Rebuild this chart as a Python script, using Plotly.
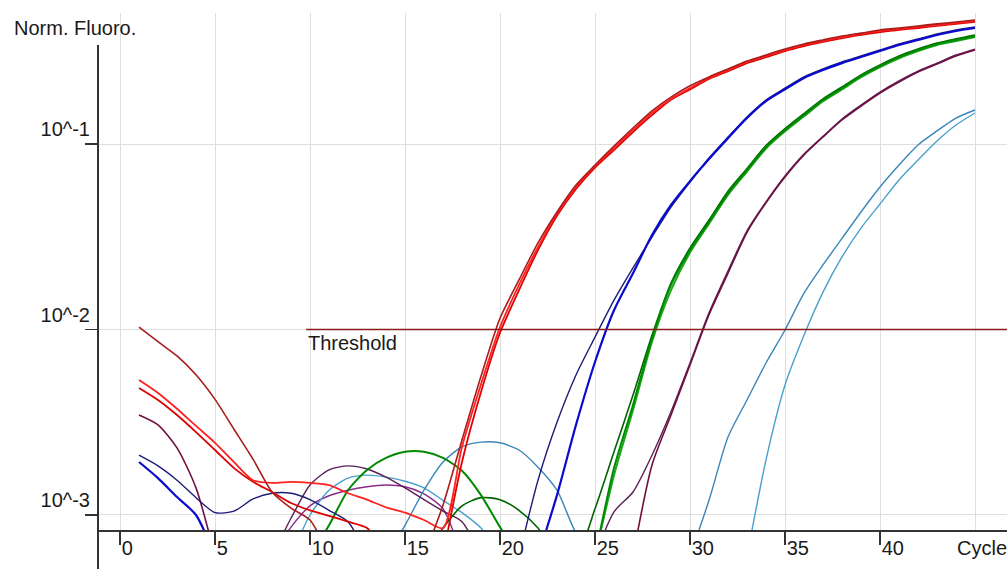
import math
import plotly.graph_objects as go

cycles = list(range(1, 46))

# Normalised fluorescence per cycle (None = not shown on log scale)
red_a = [0.0103, 0.0086, 0.0072, 0.0057, 0.0042, 0.0029, 0.0020, 0.00133, 0.00109, 0.00094,
         0.0006, None, None, None, None, 0.0006, 0.00113, 0.00254, 0.0056, 0.0115,
         0.0185, 0.0293, 0.0430, 0.0601, 0.0770, 0.0975, 0.122, 0.151, 0.179, 0.206,
         0.230, 0.254, 0.280, 0.302, 0.325, 0.346, 0.364, 0.382, 0.396, 0.412,
         0.422, 0.433, 0.444, 0.455, 0.466]
red_b = [0.00534, 0.00455, 0.00374, 0.00302, 0.00245, 0.00193, 0.00154, 0.00149, 0.00151, 0.00149,
         0.00145, 0.00131, 0.00121, 0.00110, 0.00103, 0.00094, 0.00085, 0.00233, 0.00507, 0.0103,
         0.0174, 0.0278, 0.0420, 0.0586, 0.0761, 0.0953, 0.119, 0.147, 0.175, 0.200,
         0.227, 0.250, 0.277, 0.298, 0.321, 0.342, 0.359, 0.377, 0.392, 0.407,
         0.417, 0.428, 0.438, 0.449, 0.460]
red_c = [0.00484, 0.00417, 0.00346, 0.00280, 0.00224, 0.00179, 0.00151, 0.00133, 0.00116, 0.00106,
         0.00099, 0.00092, 0.00085, 0.0006, None, None, 0.0006, 0.00193, 0.0046, 0.0096,
         0.0163, 0.0268, 0.0410, 0.0572, 0.0745, 0.0928, 0.116, 0.143, 0.173, 0.197,
         0.224, 0.247, 0.273, 0.294, 0.317, 0.337, 0.355, 0.372, 0.387, 0.4015,
         0.412, 0.422, 0.433, 0.444, 0.455]
navy = [0.0021, 0.00184, 0.00154, 0.00124, 0.00103, 0.00105, 0.00122, 0.00131, 0.00131, 0.00121,
        0.00106, 0.00092, 0.0006, None, None, None, None, None, None, None,
        0.0006, 0.00154, 0.00316, 0.00569, 0.0091, 0.0144, 0.0215, 0.0315, 0.0457, 0.0623,
        0.0841, 0.109, 0.140, 0.1726, 0.200, 0.230, 0.254, 0.277, 0.298, 0.321,
        0.346, 0.368, 0.392, 0.412, 0.427]
blue = [0.00193, 0.00158, 0.00125, 0.00100, 0.0006, None, None, None, None, None,
        None, None, None, None, None, None, None, None, None, None,
        None, 0.0006, 0.00128, 0.00306, 0.00668, 0.0127, 0.0201, 0.0323, 0.0469, 0.0631,
        0.083, 0.1075, 0.138, 0.1703, 0.197, 0.227, 0.2505, 0.273, 0.2944, 0.317,
        0.342, 0.3636, 0.387, 0.4065, 0.422]
green_a = [None, None, None, None, None, None, None, None, None, 0.0006,
           0.00088, 0.00136, 0.00175, 0.00203, 0.00219, 0.00219, 0.00203, 0.00173, 0.00128, 0.00086,
           0.0006, None, None, None, 0.0006, 0.00179, 0.00392, 0.0090, 0.0174, 0.0268,
           0.0380, 0.0544, 0.0724, 0.0963, 0.119, 0.1433, 0.1726, 0.200, 0.2326, 0.263,
           0.294, 0.321, 0.346, 0.364, 0.382]
green_b = [None, None, None, None, None, None, None, None, None, None,
           None, None, None, None, None, 0.0006, 0.00085, 0.00112, 0.00124, 0.00121,
           0.00106, 0.00085, 0.0006, 0.0006, 0.00108, 0.00219, 0.00443, 0.0093, 0.0178, 0.0275,
           0.0389, 0.0557, 0.0738, 0.0980, 0.121, 0.146, 0.175, 0.203, 0.236, 0.267,
           0.298, 0.325, 0.350, 0.369, 0.387]
green_c = [None, None, None, None, None, None, None, None, None, None,
           None, None, None, None, None, None, None, None, None, None,
           None, None, None, None, 0.0006, 0.00164, 0.00368, 0.0086, 0.0163, 0.0260,
           0.0372, 0.0531, 0.0710, 0.0946, 0.117, 0.141, 0.170, 0.197, 0.229, 0.260,
           0.290, 0.317, 0.342, 0.359, 0.377]
maroon_a = [0.00346, 0.00306, 0.0023, 0.0014, 0.0006, None, None, None, None, None,
            None, None, None, None, None, None, None, None, None, None,
            None, None, None, None, None, None, 0.0006, 0.00186, 0.00346, 0.00644,
            0.0120, 0.0201, 0.0334, 0.0482, 0.0664, 0.0873, 0.1091, 0.1347, 0.160, 0.1883,
            0.216, 0.2444, 0.270, 0.298, 0.321]
maroon_b = [None, None, None, None, None, None, None, 0.0006, 0.00096, 0.00145,
            0.00175, 0.00184, 0.00177, 0.0016, 0.0014, 0.00121, 0.00105, 0.00092, 0.0006, None,
            None, None, None, None, 0.0006, 0.00104, 0.00133, 0.0021, 0.0036, 0.0066,
            0.0123, 0.0207, 0.034, 0.0487, 0.0672, 0.0883, 0.110, 0.1363, 0.162, 0.1905,
            0.219, 0.247, 0.273, 0.302, 0.325]
teal_a = [None, None, None, None, None, None, None, None, None, None,
          None, None, None, 0.0006, 0.00088, 0.00136, 0.00193, 0.00233, 0.00247, 0.00245,
          0.00224, 0.00181, 0.00136, 0.0008, 0.0006, None, None, None, None, 0.0006,
          0.0012, 0.00263, 0.00417, 0.0066, 0.00994, 0.0157, 0.0223, 0.0310, 0.043, 0.0586,
          0.077, 0.0988, 0.1176, 0.138, 0.1525]
teal_b = [None, None, None, None, None, None, None, None, 0.0006, 0.00100,
          0.00136, 0.00158, 0.00164, 0.0016, 0.00152, 0.0014, 0.0012, 0.00103, 0.00085, 0.0006,
          None, None, None, None, None, None, None, None, None, None,
          None, None, 0.0006, 0.00198, 0.00502, 0.0093, 0.0159, 0.0246, 0.0352, 0.0475,
          0.064, 0.082, 0.1038, 0.1266, 0.1469]
purple = [None, None, None, None, None, None, None, 0.0006, 0.00086, 0.00112,
          0.00127, 0.00136, 0.00142, 0.00145, 0.00142, 0.0013, 0.00108, 0.0006, None, None,
          None, None, None, None, None, None, None, None, None, None,
          None, None, None, None, None, None, None, None, None, None,
          None, None, None, None, None]

threshold = 0.01
threshold_start = 9.8

x_ticks = [0, 5, 10, 15, 20, 25, 30, 35, 40]
x_tick_labels = ["0", "5", "10", "15", "20", "25", "30", "35", "40"]
y_ticks = [0.001, 0.01, 0.1]
y_tick_labels = ["10^-3", "10^-2", "10^-1"]

series = [
    (purple, "#8a2a8a", 1.4),
    (teal_b, "#4aa0cc", 1.4),
    (teal_a, "#3a86b8", 1.4),
    (maroon_b, "#5a1f55", 1.4),
    (maroon_a, "#701040", 1.6),
    (green_c, "#18a818", 2.0),
    (green_b, "#006400", 1.6),
    (green_a, "#008a00", 2.0),
    (navy, "#1c1c78", 1.4),
    (blue, "#0a0ad0", 2.2),
    (red_c, "#e00000", 1.8),
    (red_b, "#ff2020", 1.8),
    (red_a, "#a81c1c", 1.6),
]

fig = go.Figure()
for vals, col, w in series:
    fig.add_trace(go.Scatter(x=cycles, y=vals, mode="lines",
                             line=dict(color=col, width=w, shape="spline", smoothing=0.7),
                             connectgaps=False, hoverinfo="skip"))

fig.add_trace(go.Scatter(x=[threshold_start, 47], y=[threshold, threshold], mode="lines",
                         line=dict(color="#8b1a1a", width=1.5), hoverinfo="skip"))

W, H = 1007, 569
PLOT_TOP, PLOT_BOTTOM, PLOT_LEFT = 13, 530, 98
ph = PLOT_BOTTOM - PLOT_TOP
pw = W - PLOT_LEFT

fig.update_layout(
    width=W, height=H,
    margin=dict(l=PLOT_LEFT, r=0, t=PLOT_TOP, b=H - PLOT_BOTTOM, pad=0),
    plot_bgcolor="white", paper_bgcolor="white",
    showlegend=False,
    font=dict(family="Liberation Sans, Arial, sans-serif", size=20, color="#1a1a1a"),
)
fig.update_xaxes(
    range=[-1.158, 46.684], tickvals=x_ticks, ticktext=x_tick_labels,
    showgrid=True, gridcolor="#dedede", gridwidth=1, zeroline=False,
    showline=True, linecolor="#333333", linewidth=2,
    ticks="outside", ticklen=13, tickwidth=1.5, tickcolor="#333333",
    ticklabelposition="outside right", ticklabelstandoff=-1,
    minor=dict(tickvals=[45], showgrid=True, gridcolor="#dedede", ticks=""),
)
fig.update_yaxes(
    type="log", range=[-3.0809, -0.2938], tickvals=y_ticks, ticktext=y_tick_labels,
    showgrid=True, gridcolor="#dedede", gridwidth=1, zeroline=False,
    showline=False,
    ticks="outside", ticklen=12, tickwidth=1.5, tickcolor="#333333",
    ticklabelshift=-15, ticklabelstandoff=-9,
)

# vertical axis line extending below the x axis
fig.add_shape(type="line", xref="paper", yref="paper",
              x0=0, x1=0, y0=(PLOT_BOTTOM - H) / ph, y1=(PLOT_BOTTOM - 45) / ph,
              line=dict(color="#333333", width=2))

fig.add_annotation(text="Threshold", x=threshold_start, y=math.log10(threshold),
                   xref="x", yref="y", xanchor="left", yanchor="top",
                   showarrow=False, font=dict(size=20))
fig.add_annotation(text="Norm. Fluoro.", xref="paper", yref="paper",
                   x=(12 - PLOT_LEFT) / pw, y=(PLOT_BOTTOM - 27.5) / ph,
                   xanchor="left", yanchor="middle", showarrow=False, font=dict(size=20))
fig.add_annotation(text="Cycle", xref="paper", yref="paper",
                   x=(955 - PLOT_LEFT) / pw, y=(PLOT_BOTTOM - 548) / ph,
                   xanchor="left", yanchor="middle", showarrow=False, font=dict(size=20))

fig.write_html(
    "out.html",
    config={"displayModeBar": False, "staticPlot": True},
    post_script="document.body.style.margin='0';document.body.style.overflow='hidden';"
                "document.documentElement.style.overflow='hidden';",
)
